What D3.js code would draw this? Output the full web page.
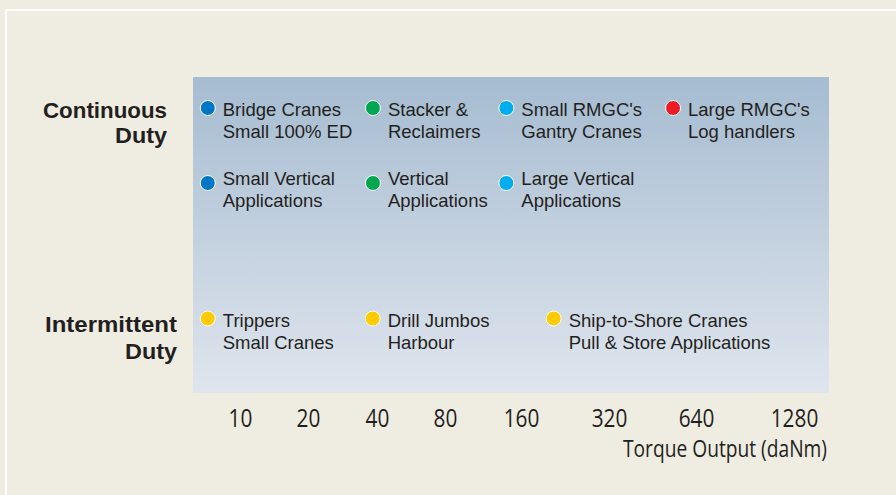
<!DOCTYPE html>
<html>
<head>
<meta charset="utf-8">
<script src="https://cdn.jsdelivr.net/npm/d3@7"></script>
<style>
  body { margin: 0; background: #efede2; }
  svg { display: block; }
</style>
</head>
<body>
<script>
var width = 896,
    height = 495;

// torque axis ticks (daNm)
var torqueTicks = [10, 20, 40, 80, 160, 320, 640, 1280];

// duty headings
var dutyNames = [["Continuous", "Duty"], ["Intermittent", "Duty"]];

// applications
var appLabels = [
    ["Bridge Cranes", "Small 100% ED"],
    ["Stacker &", "Reclaimers"],
    ["Small RMGC's", "Gantry Cranes"],
    ["Large RMGC's", "Log handlers"],
    ["Small Vertical", "Applications"],
    ["Vertical", "Applications"],
    ["Large Vertical", "Applications"],
    ["Trippers", "Small Cranes"],
    ["Drill Jumbos", "Harbour"],
    ["Ship-to-Shore Cranes", "Pull & Store Applications"]
];
var appTorque = [7.2, 38.4, 140, 533, 7.2, 38.4, 140, 7.2, 38.3, 207];
var appRow = [0, 0, 0, 0, 1, 1, 1, 2, 2, 2];
var appClass = ["A", "B", "C", "D", "A", "B", "C", "E", "E", "E"];

var color = d3.scaleOrdinal()
    .domain(["A", "B", "C", "D", "E"])
    .range(["#0076c6", "#00a650", "#00aeef", "#ec1c24", "#ffcb05"]);

// log2 steps are not evenly spaced in the original, so piecewise
var x = d3.scaleLog().base(2)
    .domain(torqueTicks)
    .range([240, 308, 377, 445, 521, 609, 696, 794]);

// baseline of first text line per row
var y = d3.scaleOrdinal().domain([0, 1, 2]).range([116, 185, 327]);
var dotDy = d3.scaleOrdinal().domain([0, 1, 2]).range([-8, -2, -8.5]);

var svg = d3.select("body").append("svg")
    .attr("width", width)
    .attr("height", height);

// white frame lines
svg.append("rect").attr("x", 0).attr("y", 0).attr("width", width).attr("height", height)
    .style("fill", "#efede2");
svg.append("rect").attr("x", 5).attr("y", 9).attr("width", width - 5).attr("height", 2)
    .style("fill", "#ffffff");
svg.append("rect").attr("x", 5).attr("y", 9).attr("width", 2).attr("height", height - 9)
    .style("fill", "#ffffff");

var grad = svg.append("defs").append("linearGradient")
    .attr("id", "panel")
    .attr("x1", 0).attr("y1", 0).attr("x2", 0).attr("y2", 1);
grad.append("stop").attr("offset", "0%").attr("stop-color", "#a6bcd1");
grad.append("stop").attr("offset", "100%").attr("stop-color", "#dfe5ed");

svg.append("rect")
    .attr("x", 193).attr("y", 77)
    .attr("width", 636).attr("height", 316)
    .style("fill", "url(#panel)");

// headings, one text per line
var headW = [[124, 52], [132, 52]];
var headX = [167, 177];
var headY = [118, 332];
var headLh = [25, 27];

dutyNames.forEach(function (d, i) {
    svg.selectAll(".duty" + i)
        .data(d)
        .enter().append("text")
        .attr("class", "duty" + i)
        .attr("x", headX[i])
        .attr("y", function (line, j) { return headY[i] + j * headLh[i]; })
        .attr("text-anchor", "end")
        .attr("textLength", function (line, j) { return headW[i][j]; })
        .attr("lengthAdjust", "spacingAndGlyphs")
        .style("font-family", "'Liberation Sans', Arial, sans-serif")
        .style("font-weight", "bold")
        .style("font-size", "21.5px")
        .style("fill", "#231f20")
        .text(function (line) { return line; });
});

// application dots + labels
var app = svg.selectAll(".app")
    .data(appLabels)
    .enter().append("g")
    .attr("class", "app");

app.append("circle")
    .attr("cx", function (d, i) { return x(appTorque[i]); })
    .attr("cy", function (d, i) { return y(appRow[i]) + dotDy(appRow[i]); })
    .attr("r", 7.5)
    .style("fill", function (d, i) { return color(appClass[i]); })
    .style("stroke", "#ffffff")
    .style("stroke-width", 1);

app.append("text")
    .style("font-family", "'Liberation Sans', Arial, sans-serif")
    .style("font-size", "18.5px")
    .style("fill", "#231f20")
    .each(function (d, i) {
        var t = d3.select(this);
        d.forEach(function (line, j) {
            t.append("tspan")
                .attr("x", x(appTorque[i]) + 15)
                .attr("y", y(appRow[i]) + j * 22)
                .text(line);
        });
    });

// x axis (labels only)
var axis = d3.axisBottom(x)
    .tickValues(torqueTicks)
    .tickFormat(d3.format("d"))
    .tickSize(0)
    .tickPadding(0);

var gx = svg.append("g")
    .attr("transform", "translate(0,427)")
    .call(axis);
gx.select(".domain").remove();
gx.selectAll("text")
    .attr("dy", 0)
    .attr("transform", "scale(0.8,1)")
    .style("font-family", "'Open Sans', sans-serif")
    .style("font-size", "26px")
    .style("fill", "#231f20");

svg.append("text")
    .attr("x", 827)
    .attr("y", 457)
    .attr("text-anchor", "end")
    .attr("textLength", 204)
    .attr("lengthAdjust", "spacingAndGlyphs")
    .style("font-family", "'Open Sans', sans-serif")
    .style("font-size", "23px")
    .style("fill", "#231f20")
    .text("Torque Output (daNm)");
</script>
</body>
</html>
